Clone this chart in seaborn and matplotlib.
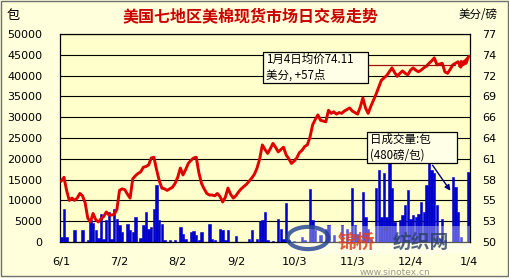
import matplotlib
matplotlib.use('Agg')
import matplotlib.pyplot as plt
import seaborn as sns
import pandas as pd
from matplotlib.patches import Rectangle, Circle

# ---------------- data ----------------
volume = [1200, 8000, 1300, 0, 0, 2800, 0, 0, 2800, 0,
          600, 5200, 4500, 2800, 900, 6800, 800, 5200, 7200, 800,
          8000, 5600, 4000, 2500, 0, 4400, 2800, 2400, 6000, 0,
          1000, 4000, 7200, 3200, 3600, 8000, 13700, 5200, 4400, 500,
          0, 400, 0, 400, 0, 3600, 2000, 800, 0, 2400,
          2700, 1600, 500, 2400, 0, 0, 4300, 800, 500, 0,
          3200, 2800, 500, 2800, 0, 0, 1400, 0, 0, 0,
          0, 800, 2800, 0, 800, 5000, 5200, 7200, 500, 0,
          300, 0, 5600, 3200, 800, 9300, 400, 0, 300, 0,
          0, 1200, 400, 0, 12700, 5400, 2800, 0, 1800, 0,
          3200, 4000, 0, 1600, 0, 0, 4000, 0, 3200, 0,
          13000, 4000, 2000, 0, 12000, 6000, 3200, 800, 0, 12900,
          17300, 6000, 16500, 6000, 18900, 13000, 4800, 1600, 5200, 6400,
          8900, 12500, 5600, 6400, 6000, 6800, 9700, 7200, 13700, 20000,
          17300, 16500, 8900, 800, 5600, 600, 0, 0, 15600, 13300,
          7200, 1200, 0, 0, 16900]

price = [57.9, 58.4, 56.7, 55.4, 55.7, 55.4, 55.7, 56.3, 56.0, 55.1,
         53.1, 52.6, 53.7, 52.9, 52.6, 53.0, 53.3, 53.9, 53.5, 53.5,
         53.6, 54.2, 56.7, 56.9, 56.8, 56.2, 55.7, 58.2, 58.6, 58.9,
         59.1, 59.7, 59.8, 60.0, 60.9, 61.0, 59.4, 58.0, 57.0, 56.9,
         56.7, 56.9, 57.1, 57.6, 58.4, 59.6, 58.7, 59.4, 60.2, 60.6,
         60.9, 61.0, 59.0, 57.6, 56.9, 56.3, 56.1, 56.1, 56.0, 56.3,
         55.9, 55.2, 55.8, 57.0, 56.2, 55.7, 56.0, 56.5, 56.9, 57.2,
         57.5, 57.9, 58.3, 58.8, 59.6, 60.8, 62.6, 62.0, 61.5, 62.1,
         62.8, 62.3, 61.7, 62.0, 62.3, 61.3, 60.8, 60.2, 60.5, 60.9,
         61.6, 61.9, 62.4, 62.6, 63.6, 65.2, 65.9, 66.5, 65.8, 65.7,
         65.6, 67.1, 66.7, 66.9, 66.6, 66.8, 66.7, 67.0, 67.2, 67.4,
         67.0, 66.8, 66.6, 67.5, 68.7, 67.4, 66.7, 67.6, 68.4, 69.2,
         70.1, 71.0, 71.3, 71.6, 72.1, 72.6, 72.0, 71.5, 71.9, 72.2,
         71.9, 71.7, 72.3, 72.6, 72.3, 72.1, 72.3, 72.6, 72.8, 73.2,
         73.5, 73.9, 73.0, 73.1, 73.2, 72.1, 71.9, 72.4, 73.0, 73.2,
         73.4, 72.7, 73.4, 73.2, 74.11]

days = list(range(len(volume)))
date_labels = ['6/1', '7/2', '8/2', '9/2', '10/3', '11/3', '12/4', '1/4']
date_positions = [0, 22, 44, 66, 88, 110, 132, 154]
left_ticks = [0, 5000, 10000, 15000, 20000, 25000, 30000, 35000, 40000, 45000, 50000]
right_ticks = [50.0, 52.7, 55.4, 58.1, 60.8, 63.5, 66.2, 68.9, 71.6, 74.3, 77.0]
right_labels = ['50', '53', '55', '58', '61', '64', '66', '69', '72', '74', '77']

title = '美国七地区美棉现货市场日交易走势'
note_price = '1月4日均价74.11\n美分, +57点'
note_vol = '日成交量:包\n(480磅/包)'

df = pd.DataFrame({'day': days, 'volume': volume, 'price': price})

# ---------------- style ----------------
sns.set_theme(style='white')
plt.rcParams['font.family'] = ['Noto Sans CJK SC', 'DejaVu Sans']

W, H = 510, 278
FIG_BG = '#FFFFDC'
AX_BG = '#FFFFCC'
BAR_C = '#0000CC'
fig = plt.figure(figsize=(W / 100, H / 100), dpi=100, facecolor=FIG_BG)


def fx(px):
    return px / W


def fy(py):
    return 1 - py / H


ax = fig.add_axes([fx(60), fy(242), fx(470) - fx(60), fy(34) - fy(242)])
ax.set_facecolor(AX_BG)

sns.barplot(data=df, x='day', y='volume', ax=ax, color=BAR_C,
            saturation=1, width=0.9, linewidth=0.4, edgecolor=BAR_C,
            zorder=3)
ax.set_ylim(0, 50000)
ax.set_xlim(-0.5, len(days) - 0.5)
ax.set_yticks(left_ticks)
ax.set_yticklabels([str(t) for t in left_ticks], fontsize=8,
                   family='DejaVu Sans')
ax.set_xticks(date_positions)
ax.set_xticklabels(date_labels, fontsize=8.2, family='DejaVu Sans')
ax.tick_params(axis='y', length=0, pad=12.5, colors='black')
ax.tick_params(axis='x', length=0, pad=11, colors='black')
ax.set_xlabel('')
ax.set_ylabel('')
ax.yaxis.grid(True, color='black', linewidth=0.8)
ax.xaxis.grid(False)
ax.set_axisbelow(True)
for s in ax.spines.values():
    s.set_color('black')
    s.set_linewidth(0.9)

ax2 = ax.twinx()
sns.lineplot(data=df, x='day', y='price', ax=ax2, color='#E00000',
             linewidth=2.1, zorder=5)
ax2.set_ylim(50, 77)
ax2.set_yticks(right_ticks)
ax2.set_yticklabels(right_labels, fontsize=8, family='DejaVu Sans')
ax2.tick_params(axis='y', length=0, pad=9, colors='black')
ax2.set_ylabel('')
ax2.set_xlabel('')
ax2.grid(False)
for s in ax2.spines.values():
    s.set_visible(False)
ax2.set_xlim(-0.5, len(days) - 0.5)

# ---------------- texts ----------------
fig.text(fx(251), fy(16), title, ha='center', va='center', fontsize=11.5,
         fontweight='bold', color='#CC0000')
fig.text(fx(7), fy(15), '包', ha='left', va='center', fontsize=9.5,
         color='black')
fig.text(fx(478), fy(15), '美分/磅', ha='center', va='center',
         fontsize=8.3, color='black')

# price note box
fig.patches.append(Rectangle((fx(263), fy(83)), fx(368) - fx(263),
                             fy(52) - fy(83), transform=fig.transFigure,
                             facecolor='#FFFFE8', edgecolor='black',
                             linewidth=0.9, zorder=10))
fig.text(fx(266), fy(67.5), note_price, ha='left', va='center',
         fontsize=8.3, color='black', linespacing=1.25, zorder=11)
# leader line + arrow to last price
fig.add_artist(plt.Line2D([fx(368), fx(455)], [fy(65), fy(65)],
                          color='#A01010', linewidth=0.9, zorder=9))
ax.annotate('', xy=(456, H - 70), xycoords='figure pixels',
            xytext=(470, H - 55), textcoords='figure pixels',
            arrowprops=dict(arrowstyle='-|>', color='#E00000', lw=1.5,
                            mutation_scale=9), zorder=12)

# volume note box
fig.patches.append(Rectangle((fx(367), fy(163)), fx(457) - fx(367),
                             fy(132) - fy(163), transform=fig.transFigure,
                             facecolor='#FFFFE8', edgecolor='black',
                             linewidth=0.9, zorder=10))
fig.text(fx(370), fy(147.5), note_vol, ha='left', va='center',
         fontsize=8.3, color='black', linespacing=1.25, zorder=11)
ax.annotate('', xy=(452, H - 193), xycoords='figure pixels',
            xytext=(431, H - 163), textcoords='figure pixels',
            arrowprops=dict(arrowstyle='-|>', color='#000080', lw=1.0,
                            mutation_scale=8), zorder=12)

# watermark
fig.patches.append(Rectangle((fx(290), fy(254)), fx(470) - fx(290),
                             fy(226) - fy(254), transform=fig.transFigure,
                             facecolor='white', edgecolor='none', alpha=0.35,
                             zorder=13))
fig.patches.append(Circle((fx(308), fy(238)), 0.040, transform=fig.transFigure,
                          facecolor='none', edgecolor='#1F3F8F', linewidth=3,
                          alpha=0.8, zorder=14))
fig.text(fx(338), fy(242), '锦桥', ha='left', va='center', fontsize=13.5,
         fontweight='bold', color='#E04020', alpha=0.85, zorder=15)
fig.text(fx(384), fy(232), '®', ha='left', va='center', fontsize=6,
         color='#556677', alpha=0.85, zorder=15)
fig.text(fx(393), fy(242), '纺织网', ha='left', va='center', fontsize=13.5,
         fontweight='bold', color='#2A3F66', alpha=0.8, zorder=15)
fig.text(fx(395), fy(272.5), 'www.sinotex.cn', ha='center', va='center',
         fontsize=6.5, color='#808080', alpha=0.8, zorder=15,
         family='DejaVu Sans')

# outer frame
fig.patches.append(Rectangle((fx(1), fy(276)), fx(508) - fx(1),
                             fy(1) - fy(276), transform=fig.transFigure,
                             facecolor='none', edgecolor='#707070',
                             linewidth=1, zorder=20))

fig.savefig('out.png', dpi=100, facecolor=FIG_BG)
